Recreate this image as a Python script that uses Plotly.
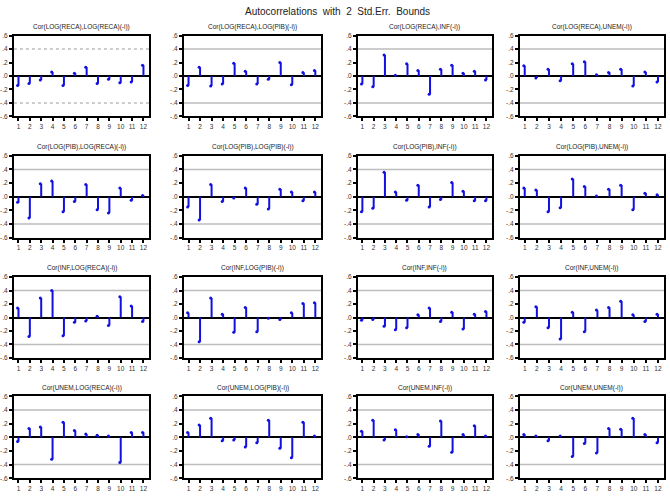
import plotly.graph_objects as go

lags = list(range(1, 13))

titles = [
    "Cor(LOG(RECA),LOG(RECA)(-i))", "Cor(LOG(RECA),LOG(PIB)(-i))", "Cor(LOG(RECA),INF(-i))", "Cor(LOG(RECA),UNEM(-i))",
    "Cor(LOG(PIB),LOG(RECA)(-i))", "Cor(LOG(PIB),LOG(PIB)(-i))", "Cor(LOG(PIB),INF(-i))", "Cor(LOG(PIB),UNEM(-i))",
    "Cor(INF,LOG(RECA)(-i))", "Cor(INF,LOG(PIB)(-i))", "Cor(INF,INF(-i))", "Cor(INF,UNEM(-i))",
    "Cor(UNEM,LOG(RECA)(-i))", "Cor(UNEM,LOG(PIB)(-i))", "Cor(UNEM,INF(-i))", "Cor(UNEM,UNEM(-i))",
]

reca_reca = [-0.14, -0.11, -0.06, 0.06, -0.14, 0.04, 0.13, -0.11, -0.05, -0.10, -0.09, 0.16]
reca_pib = [-0.14, 0.13, -0.15, -0.12, 0.19, 0.07, -0.12, -0.05, 0.20, -0.13, 0.05, 0.08]
reca_inf = [-0.12, -0.16, 0.31, 0.01, 0.18, 0.08, -0.27, 0.10, 0.16, 0.04, 0.07, -0.06]
reca_unem = [0.15, -0.03, 0.10, -0.07, 0.18, 0.21, 0.02, 0.05, 0.10, -0.15, 0.06, -0.09]
pib_reca = [-0.08, -0.31, 0.19, 0.23, -0.22, -0.07, 0.18, -0.19, -0.24, 0.13, -0.05, 0.02]
pib_pib = [-0.15, -0.34, 0.18, -0.07, -0.02, 0.13, -0.11, -0.18, 0.11, 0.07, -0.06, 0.07]
pib_inf = [-0.22, -0.17, 0.36, 0.07, -0.05, 0.17, -0.15, -0.04, 0.21, 0.08, -0.06, -0.06]
pib_unem = [0.13, 0.10, -0.22, -0.16, 0.26, 0.15, 0.01, 0.11, 0.17, -0.19, 0.05, 0.03]
inf_reca = [0.14, -0.28, 0.29, 0.40, -0.27, -0.07, -0.05, 0.02, -0.12, 0.31, 0.17, -0.06]
inf_pib = [0.07, -0.36, 0.29, 0.05, -0.22, 0.15, -0.21, -0.01, -0.03, 0.07, 0.21, 0.22]
inf_inf = [-0.04, -0.03, -0.13, -0.18, -0.15, 0.04, 0.14, -0.06, 0.08, -0.17, 0.05, 0.09]
inf_unem = [-0.07, 0.16, -0.15, -0.32, 0.08, -0.21, 0.11, 0.15, 0.24, 0.04, -0.06, 0.05]
unem_reca = [-0.06, 0.13, 0.15, -0.32, 0.22, 0.10, 0.05, 0.03, 0.02, -0.37, 0.07, 0.07]
unem_pib = [0.07, 0.18, 0.28, -0.05, -0.04, -0.14, -0.08, 0.25, -0.16, -0.30, 0.22, 0.02]
unem_inf = [0.09, 0.25, -0.04, 0.11, 0.01, 0.04, -0.13, 0.24, -0.22, 0.04, 0.17, 0.02]
unem_unem = [0.04, 0.02, -0.05, 0.02, -0.28, -0.09, -0.23, 0.13, 0.12, 0.28, 0.04, -0.08]

series = [reca_reca, reca_pib, reca_inf, reca_unem,
          pib_reca, pib_pib, pib_inf, pib_unem,
          inf_reca, inf_pib, inf_inf, inf_unem,
          unem_reca, unem_pib, unem_inf, unem_unem]

bound = 0.4
ytick_vals = [-0.6, -0.4, -0.2, 0.0, 0.2, 0.4, 0.6]
ytick_text = ["-.6", "-.4", "-.2", ".0", ".2", ".4", ".6"]

W, H = 670, 499
cols_px = [(10, 146), (181, 319), (356, 491), (519, 664)]
rows_px = [(32, 114), (154, 237), (277, 359), (398, 481)]

fig = go.Figure()
layout = dict(
    width=W, height=H,
    margin=dict(l=0, r=0, t=0, b=0),
    paper_bgcolor="white", plot_bgcolor="white",
    showlegend=False,
    font=dict(family="Liberation Sans, Arial, sans-serif", size=7, color="black"),
)
shapes = []
annotations = [dict(text="Autocorrelations  with  2  Std.Err.  Bounds", x=0.5, y=1 - 8 / H,
                    xref="paper", yref="paper", showarrow=False,
                    font=dict(size=10, color="#222222"), xanchor="center", yanchor="middle")]

for k, vals in enumerate(series):
    r, c = divmod(k, 4)
    idx = "" if k == 0 else str(k + 1)
    xa, ya = "x" + idx, "y" + idx
    x0, x1 = cols_px[c]
    y0, y1 = rows_px[r]
    xs, ys = [], []
    for lag, v in zip(lags, vals):
        xs += [lag, lag, None]
        ys += [0, v, None]
    fig.add_trace(go.Scatter(x=xs, y=ys, mode="lines", xaxis=xa, yaxis=ya,
                             line=dict(color="#1010e0", width=2), hoverinfo="skip"))
    fig.add_trace(go.Scatter(x=[l - 0.08 for l in lags], y=vals, mode="markers", xaxis=xa, yaxis=ya,
                             marker=dict(color="#1010e0", size=3), hoverinfo="skip"))
    layout["xaxis" + idx] = dict(
        domain=[x0 / W, x1 / W], anchor=ya, range=[0.6, 12.5],
        tickvals=lags, ticktext=[str(l) for l in lags], ticks="outside", ticklen=3,
        tickwidth=1.5, tickcolor="black", showgrid=False, zeroline=False,
        showline=True, linecolor="black", linewidth=2, mirror=True,
        tickfont=dict(size=6.5, color="#333333"), fixedrange=True,
    )
    layout["yaxis" + idx] = dict(
        domain=[1 - y1 / H, 1 - y0 / H], anchor=xa, range=[-0.6, 0.6],
        tickvals=ytick_vals, ticktext=ytick_text, ticks="outside", ticklen=3,
        tickwidth=1.5, tickcolor="black", showgrid=False,
        zeroline=True, zerolinecolor="black", zerolinewidth=2,
        showline=True, linecolor="black", linewidth=2, mirror=True,
        tickfont=dict(size=6.5, color="#333333"), fixedrange=True,
    )
    dash = "dot" if k == 0 else "solid"
    for b in (bound, -bound):
        shapes.append(dict(type="line", xref=xa + " domain", yref=ya, x0=0, x1=1, y0=b, y1=b,
                           line=dict(color="#bdbdbd", width=1.5, dash=dash), layer="below"))
    annotations.append(dict(text=titles[k], x=(x0 + x1) / 2 / W, y=1 - (y0 - 9) / H,
                            xref="paper", yref="paper", showarrow=False,
                            font=dict(size=6.5, color="#222222"), xanchor="center", yanchor="middle"))

layout["shapes"] = shapes
layout["annotations"] = annotations
fig.update_layout(**layout)
fig.write_html("out.html", config={"displayModeBar": False},
               post_script="document.body.style.margin='0';")
